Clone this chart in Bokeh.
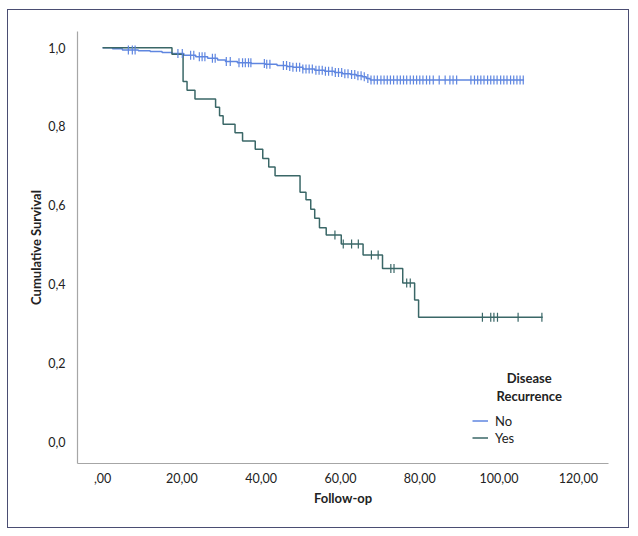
import numpy as np
from bokeh.plotting import figure
from bokeh.models import FixedTicker, Legend, LegendItem, Label, CustomJSTickFormatter
from bokeh.embed import file_html
from bokeh.resources import INLINE

# ---- data ----
no_t = [0, 2.5, 5.0, 9.0, 12.0, 15.0, 17.5, 20.5, 23.5, 26.5, 29.0, 31.0, 34.0, 37.5, 41.0,
        44.0, 46.5, 48.0, 50.5, 53.5, 56.0, 58.5, 60.5, 62.5, 64.0, 65.5, 66.5, 67.5]
no_s = [1.0, 0.997, 0.994, 0.992, 0.990, 0.988, 0.985, 0.981, 0.977, 0.973, 0.969, 0.965, 0.962, 0.960, 0.958,
        0.955, 0.952, 0.950, 0.946, 0.943, 0.940, 0.937, 0.934, 0.932, 0.929, 0.926, 0.922, 0.918]
no_end = 106.3

yes_t = [0, 17.5, 20.3, 21.3, 23.3, 28.5, 29.5, 30.4, 33.4, 35.3, 38.5, 40.4, 41.9, 43.5,
         49.8, 51.3, 52.5, 53.5, 54.7, 56.4, 60.2, 65.7, 70.6, 75.7, 78.7, 79.7]
yes_s = [1.0, 0.983, 0.914, 0.892, 0.870, 0.849, 0.827, 0.806, 0.784, 0.763, 0.742, 0.719, 0.697, 0.675,
         0.633, 0.614, 0.590, 0.567, 0.543, 0.525, 0.502, 0.474, 0.440, 0.403, 0.360, 0.316]
yes_end = 111.0

no_cens = [6.5, 7.5, 8.2, 19.0, 20.1, 22.2, 23.0, 24.4, 25.1, 25.8, 27.7, 28.4, 31.2, 32.2,
           34.4, 35.3, 36.0, 36.8, 37.4, 40.8, 41.4, 42.2,
           45.6, 46.4, 47.2, 48.0, 48.9, 49.7, 50.5, 51.3, 52.1, 52.9, 53.8, 54.6, 55.4, 56.2,
           57.0, 57.9, 58.7, 59.5, 60.3, 61.1, 61.9, 62.8, 63.6, 64.4, 65.2, 66.0, 66.9,
           67.7, 68.5, 69.3, 70.2, 71.0, 71.8, 72.6, 73.4, 74.3, 75.1, 75.9, 76.7, 77.6, 78.4,
           79.2, 80.0, 80.8, 81.7, 82.5, 83.4, 84.9, 86.4, 87.6, 88.4, 89.3,
           92.9, 93.8, 94.6, 95.4, 96.2, 97.1, 97.9, 98.7, 99.5, 100.4, 101.2, 102.0, 102.9,
           103.7, 104.5, 105.3, 106.1]
yes_cens = [58.6, 60.7, 62.8, 64.5, 67.8, 69.5, 72.7, 73.5, 76.7, 77.6,
            95.8, 97.9, 98.7, 99.6, 104.8, 110.8]

x_ticks = [0, 20, 40, 60, 80, 100, 120]
y_ticks = [0.0, 0.2, 0.4, 0.6, 0.8, 1.0]

BLUE = "#5f86e0"
TEAL = "#3a6767"
FONT = "Lato"
TXT = "#222222"


def surv_at(ts, ss, t):
    i = np.searchsorted(np.array(ts), t, side="right") - 1
    return ss[i]


p = figure(width=620, height=517, output_backend="svg", toolbar_location=None,
           x_range=(-6.33, 127.6), y_range=(-0.055, 1.041),
           min_border_left=69, min_border_right=22, min_border_top=21, min_border_bottom=66)
p.styles = {"border": "1px solid #4a4d72", "margin-left": "7px", "margin-top": "9px",
            "box-sizing": "content-box"}
p.outline_line_color = None
p.grid.visible = False
p.background_fill_color = "white"
p.border_fill_color = "white"

# curves
r_no = p.step(no_t + [no_end], no_s + [no_s[-1]], mode="after", line_color=BLUE, line_width=1.5)
r_yes = p.step(yes_t + [yes_end], yes_s + [yes_s[-1]], mode="after", line_color=TEAL, line_width=1.5)

p.scatter(no_cens, [surv_at(no_t, no_s, t) for t in no_cens], marker="dash", angle=np.pi / 2,
          size=9, line_color=BLUE, line_width=1.2)
p.scatter(yes_cens, [surv_at(yes_t, yes_s, t) for t in yes_cens], marker="dash", angle=np.pi / 2,
          size=9, line_color=TEAL, line_width=1.2)

# axes
p.xaxis.ticker = FixedTicker(ticks=x_ticks)
p.yaxis.ticker = FixedTicker(ticks=y_ticks)
p.xaxis.formatter = CustomJSTickFormatter(code="return tick == 0 ? ',00' : tick.toFixed(2).replace('.', ',');")
p.yaxis.formatter = CustomJSTickFormatter(code="return tick.toFixed(1).replace('.', ',');")
for ax in (p.xaxis, p.yaxis):
    ax.axis_line_color = "#a6a6a6"
    ax.axis_line_width = 1.2
    ax.major_tick_line_color = None
    ax.minor_tick_line_color = None
    ax.major_label_text_font = FONT
    ax.major_label_text_font_size = "12.5px"
    ax.major_label_text_color = TXT
    ax.axis_label_text_font = FONT
    ax.axis_label_text_font_size = "13px"
    ax.axis_label_text_font_style = "bold"
    ax.axis_label_text_color = TXT
p.xaxis.axis_label = "Follow-op"
p.yaxis.axis_label = "Cumulative Survival"
p.xaxis.major_label_standoff = 3
p.yaxis.major_label_standoff = 6
p.xaxis.axis_label_standoff = 4
p.yaxis.axis_label_standoff = 1

# legend
p.add_layout(Label(x=107.6, y=0.163, text="Disease", text_font=FONT, text_font_size="13px",
                   text_font_style="bold", text_color=TXT, text_align="center", text_baseline="middle"))
p.add_layout(Label(x=107.6, y=0.115, text="Recurrence", text_font=FONT, text_font_size="13px",
                   text_font_style="bold", text_color=TXT, text_align="center", text_baseline="middle"))
legend = Legend(items=[LegendItem(label="No", renderers=[r_no]), LegendItem(label="Yes", renderers=[r_yes])],
                location=(395, 17), padding=0, margin=0, spacing=0, glyph_width=16, glyph_height=17,
                label_height=17, label_standoff=7, border_line_color=None, background_fill_alpha=0,
                label_text_font=FONT, label_text_font_size="13px", label_text_color=TXT)
p.add_layout(legend)

open("out.html", "w").write(file_html(p, INLINE))
